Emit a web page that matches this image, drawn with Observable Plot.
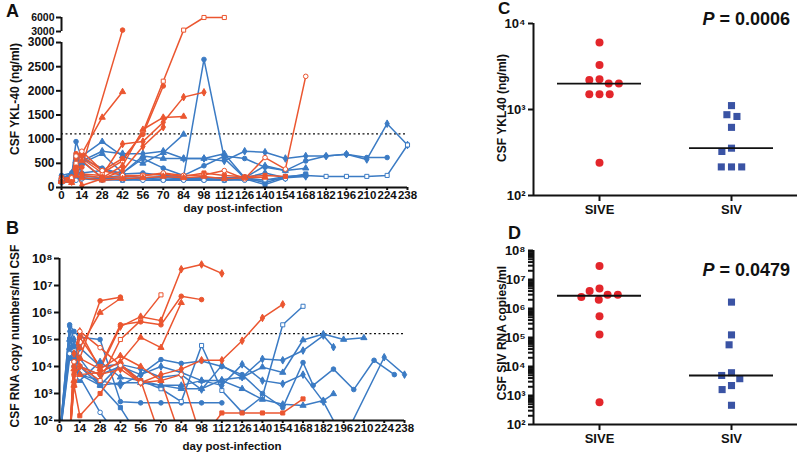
<!DOCTYPE html>
<html><head><meta charset="utf-8">
<script src="https://cdn.jsdelivr.net/npm/d3@7"></script>
<script src="https://cdn.jsdelivr.net/npm/@observablehq/plot@0.6"></script>
<style>
body{margin:0;background:#fff;font-family:"Liberation Sans",Arial,Helvetica,sans-serif;color:#111;}
#wrap{position:relative;width:800px;height:464px;overflow:hidden;background:#fff;}
.panel{position:absolute;}
.lbl{position:absolute;font-weight:bold;font-size:18px;line-height:1;}
.ytitle{position:absolute;font-weight:bold;font-size:12px;white-space:nowrap;line-height:1;transform:translate(-50%,-50%) rotate(-90deg);}
.xtitle{position:absolute;font-weight:bold;font-size:11.5px;white-space:nowrap;line-height:1;transform:translateX(-50%);}
.pval{position:absolute;font-weight:bold;font-size:18px;white-space:nowrap;line-height:1;}
</style></head>
<body>
<div id="wrap">
  <div id="pA" class="panel" style="left:0;top:0"></div>
  <div id="pB" class="panel" style="left:0;top:220px"></div>
  <div id="pC" class="panel" style="left:430px;top:0"></div>
  <div id="pD" class="panel" style="left:430px;top:225px"></div>
  <div class="lbl" style="left:6px;top:2px">A</div>
  <div class="lbl" style="left:6px;top:219px">B</div>
  <div class="lbl" style="left:498px;top:0px;font-size:17px">C</div>
  <div class="lbl" style="left:508px;top:224px">D</div>
  <div class="ytitle" style="left:15px;top:99px">CSF YKL-40 (ng/ml)</div>
  <div class="ytitle" style="left:15px;top:336px">CSF RNA copy numbers/ml CSF</div>
  <div class="ytitle" style="left:502px;top:108px">CSF YKL40 (ng/ml)</div>
  <div class="ytitle" style="left:502px;top:333px">CSF SIV RNA copies/ml</div>
  <div class="xtitle" style="left:233px;top:203px">day post-infection</div>
  <div class="xtitle" style="left:232px;top:441px">day post-infection</div>
  <div class="pval" style="right:10px;top:10px"><i>P</i> = 0.0006</div>
  <div class="pval" style="right:10px;top:261px"><i>P</i> = 0.0479</div>
</div>
<script>
// ---------- data ----------
const dayTicks = [0,14,28,42,56,70,84,98,112,126,140,154,168,182,196,210,224,238];
const yklTicksLower = [0,500,1000,1500,2000,2500,3000];
const yklTicksUpper = [3001,6000];
const yklTickLabelsLower = ["0","500","1000","1500","2000","2500","3000"];
const yklTickLabelsUpper = ["3000","6000"];
const yklThreshold = 1110;
const rnaThreshold = 1.66e5;
const rnaTicks = [1e2,1e3,1e4,1e5,1e6,1e7,1e8];

// panel A: CSF YKL-40 time courses [day, ng/ml]
const yklCourseSive = [
 [[0,180],[7,220],[10,600],[14,420],[42,3300]],
 [[0,150],[7,180],[10,450],[14,700],[28,1450],[42,1980]],
 [[0,200],[7,130],[10,350],[14,280],[28,250],[42,900],[56,950],[70,1350],[84,1870],[98,1970]],
 [[0,160],[7,200],[10,500],[14,600],[28,300],[42,550],[56,1150],[70,2200],[84,3300],[98,6000],[112,6000]],
 [[0,180],[7,150],[10,700],[14,650],[28,350],[42,600],[56,1100],[70,2100]],
 [[0,120],[7,160],[10,400],[14,550],[28,200],[42,450],[56,1200],[70,1450],[84,1470]],
 [[0,140],[7,120],[10,300],[14,40],[28,180],[42,350],[56,850],[70,1250]],
 [[0,200],[7,160],[10,350],[14,250],[28,200],[42,220],[56,250],[70,280],[84,230],[98,300],[112,250],[126,220],[140,250],[154,230]],
 [[0,170],[7,200],[10,650],[14,750],[28,350],[42,250],[56,250],[70,300],[84,250],[98,260],[112,350],[126,180],[140,620],[154,380],[168,2300]],
 [[0,130],[7,100],[10,250],[14,200],[28,150],[42,180],[56,200],[70,230],[84,200],[98,230],[112,180],[126,200],[140,210]]
];
const yklCourseSiv = [
 [[0,200],[7,250],[10,950],[14,600],[28,400],[42,280],[56,300],[70,250],[84,230],[98,2650],[112,600],[126,200],[140,100],[154,220],[168,250]],
 [[0,180],[7,300],[10,550],[14,650],[28,950],[42,650],[56,500],[70,720],[84,1100]],
 [[0,150],[7,200],[10,500],[14,550],[28,750],[42,700],[56,700],[70,750],[84,600],[98,600],[112,550],[126,750],[140,730],[154,600],[168,650],[182,650],[196,690],[210,580],[224,1320],[238,880]],
 [[0,200],[7,150],[10,300],[14,250],[28,200],[42,250],[56,200],[70,220],[84,200],[98,200],[112,200],[126,200],[140,150],[154,230],[168,250],[182,230],[196,230],[210,230],[224,250],[238,880]],
 [[0,250],[7,300],[10,650],[14,300],[28,350],[42,300],[56,600],[70,400],[84,250],[98,450],[112,650],[126,600],[140,420],[154,350],[168,550],[182,650],[196,690],[210,620],[224,620]],
 [[0,150],[7,180],[10,200],[14,500],[28,700],[42,300],[56,650],[70,600],[84,600],[98,600],[112,700],[126,200],[140,450],[154,350],[168,400]],
 [[0,180],[7,200],[10,250],[14,200],[28,180],[42,200],[56,180],[70,200],[84,180],[98,180],[112,170],[126,200],[140,300],[154,200],[168,230]],
 [[0,200],[7,150],[10,600],[14,550],[28,200],[42,150],[56,180],[70,160],[84,170],[98,160],[112,150],[126,180],[140,60],[154,200],[168,280]],
 [[0,100],[7,120],[10,150],[14,180],[28,150],[42,160],[56,150],[70,150],[84,150],[98,150],[112,160],[126,150],[140,160],[154,180]]
];

// panel B: CSF SIV RNA time courses [day, copies/ml] (values below 100 = below the axis)
const rnaCourseSive = [
 [[7,20],[10,1.5e4],[14,2e4],[28,2.7e6],[42,3.7e6]],
 [[7,20],[10,8e3],[14,5e4],[28,1e6],[42,3.3e6]],
 [[7,20],[10,3e4],[14,2e5],[28,8e3],[42,3e5],[56,7e5],[70,5e5],[84,4e7],[98,6e7],[112,2.8e7]],
 [[7,20],[10,5e3],[14,1e4],[28,3e3],[42,1e5],[56,5e5],[70,4.5e6]],
 [[7,20],[10,1e4],[14,1.2e5],[28,1e4],[42,3.5e5],[56,4.5e5],[70,3.5e5],[84,4e6],[98,3e6]],
 [[7,20],[10,2e3],[14,5e3],[28,6e3],[42,1.5e4],[56,1.2e5],[70,5e4],[84,2.3e6]],
 [[7,20],[10,5e3],[14,1e4],[28,5e3],[42,8e3],[56,2.5e3],[70,5e3],[84,8e3],[98,1.7e4],[112,1.7e4],[126,9e4],[140,6.3e5],[154,2e6]],
 [[7,20],[10,2e3],[14,150],[28,1e3],[42,1.2e4],[56,3e3],[70,20],[98,20],[112,190],[126,190],[140,190],[154,190],[168,630]],
 [[7,20],[10,1.5e4],[14,2e5],[28,5e4],[42,1.1e4],[56,2.5e3],[70,3e3],[84,5e3],[98,20]],
 [[7,20],[10,3e3],[14,2e4],[28,8e3],[42,2.5e4],[56,1e4],[70,3e3],[84,20]]
];
const rnaCourseSiv = [
 [[0,20],[7,3.5e5],[10,2e5],[14,1.2e5],[28,1e5],[42,5e2],[56,4.5e2],[70,4.5e2],[84,4.5e2],[98,4.5e2],[112,4.5e2]],
 [[0,20],[7,1e5],[10,5e4],[14,2e4],[28,2e3],[42,2.5e3],[56,2.5e3],[70,2e3],[84,1.5e3],[98,1.5e3],[112,3.2e3],[126,4e3],[140,9.5e3],[154,6e3],[168,9.6e4],[182,1.6e5],[196,1e5],[210,1.15e5]],
 [[0,20],[7,3e5],[10,1e5],[14,5e4],[28,1e4],[42,1.2e4],[56,8e3],[70,4e3],[84,5e3],[98,1.4e3],[112,1.1e4],[126,4e3],[140,1.9e4],[154,1.7e4],[168,3.9e4],[182,1.4e5],[189,5.2e4]],
 [[0,20],[7,1e5],[10,4e4],[14,1e4],[28,2e3],[42,1.2e4],[56,3e3],[70,1.5e3],[84,5e2],[98,6e4],[112,1.3e3],[126,2e2],[140,7.7e2],[154,3.5e5],[168,1.7e6]],
 [[0,20],[7,2e4],[10,3e4],[14,1e4],[28,5e3],[42,1e4],[56,5e3],[70,1.8e4],[84,1.3e4],[98,1.6e4],[112,1e4],[126,5e3],[140,1e3],[154,3e2],[168,1.4e4],[175,2e3],[189,8e3],[203,1.4e3],[217,1.7e4],[231,5e3]],
 [[0,20],[7,5e4],[10,2e4],[14,3e3],[28,1.5e4],[42,4e3],[56,3e3],[70,2e3],[84,2e3],[98,3e3],[112,3e3],[126,1.5e3],[140,6e2],[154,4e2],[168,3.6e2],[182,5.5e2],[189,9.7e2]],
 [[0,20],[7,2e5],[10,6e4],[14,5e3],[28,3e3],[42,2e3],[56,5e3],[70,1e4],[84,6e3],[98,3e3],[112,2e3],[126,1.2e4],[140,3e3],[154,2.3e3],[168,5e3],[182,5e2],[196,20],[224,2.2e4],[238,5e3]],
 [[0,20],[7,1e5],[10,3e4],[14,5e3],[28,2e3],[42,3e2],[56,20]],
 [[0,20],[7,3e4],[10,1e4],[14,4e3],[28,2e2],[42,20]]
];

// panels C and D: per-animal values
const groups = ["SIVE","SIV"];
const yklSive = [6000,3300,2250,2200,2000,2000,1500,1500,1500,240];
const yklSiv  = [1110,870,830,620,355,325,215,215,215];
const rnaSive = [2.9e7,4.9e6,4e6,3e6,3e6,2.5e6,2e6,5.4e5,1.26e5,590];
const rnaSiv  = [1.66e6,1.23e5,5.6e4,6.1e3,4.9e3,3.8e3,2.2e3,1.6e3,460];

// ---------- style ----------
const RED = "#eb5630", BLUE = "#3b7bc4";
const RED2 = "#e3262b", BLUE2 = "#3a53a4";
const SYMS = ["circle","triangle","diamond","square"];
const FONT = "'Liberation Sans', Arial, Helvetica, sans-serif";
const SUP = ["⁰","¹","²","³","⁴","⁵","⁶","⁷","⁸","⁹"];
const pow10 = d => "10" + SUP[Math.round(Math.log10(d))];
const baseStyle = {fontFamily: FONT, fontSize: "12px", fontWeight: "bold", color: "#111", background: "transparent", overflow: "visible"};

// broken y axis for panel A: linear up to 3000, gap, compressed segment up to 6000
const BREAK_AT = 3000, BREAK_GAP = 228, UPPER_K = 0.0966;
const brokenY = v => (v <= BREAK_AT ? v : BREAK_AT + BREAK_GAP + (v - BREAK_AT) * UPPER_K);
const identity = v => v;

function toRows(series, group, f) {
  const out = [];
  series.forEach((s, k) => s.forEach(([day, value]) => out.push({id: group + k, group, k, day, value, y: f(value)})));
  return out;
}

function courseMarks(sive, siv, yMin, clip, f) {
  const rs = toRows(sive, "SIVE", f), bs = toRows(siv, "SIV", f);
  const dots = (data, col) => Plot.dot(data.filter(d => d.value >= yMin), {
    x: "day", y: "y", symbol: d => d.k % 4, r: 2.3, stroke: col, strokeWidth: 1,
    fill: d => (d.k % 5 === 3 ? "white" : col)
  });
  return [
    Plot.line(bs, {x: "day", y: "y", z: "id", stroke: BLUE, strokeWidth: 1.5, clip}),
    Plot.line(rs, {x: "day", y: "y", z: "id", stroke: RED, strokeWidth: 1.5, clip}),
    dots(bs, BLUE),
    dots(rs, RED)
  ];
}

const xAxisCourse = Plot.axisX({ticks: dayTicks, tickFormat: d => String(d), tickSize: 3, tickPadding: 0, strokeWidth: 2, label: null, fontSize: 11.5, fontWeight: "bold"});

// ---------- panel A ----------
const lowT = yklTicksLower.map(brokenY), upT = yklTicksUpper.map(brokenY);
const plotA = Plot.plot({
  width: 420, height: 215, marginLeft: 61, marginRight: 13, marginTop: 17, marginBottom: 28,
  style: baseStyle,
  x: {domain: [0, 238]},
  y: {domain: [0, brokenY(6000)]},
  symbol: {domain: [0,1,2,3], range: SYMS},
  marks: [
    Plot.ruleY([brokenY(yklThreshold)], {stroke: "#111", strokeWidth: 1.3, strokeDasharray: "2,2.5"}),
    ...courseMarks(yklCourseSive, yklCourseSiv, 0, false, brokenY),
    Plot.ruleY([0], {strokeWidth: 2}),
    Plot.ruleX([0], {y1: 0, y2: brokenY(3000), strokeWidth: 2}),
    Plot.ruleX([0], {y1: brokenY(3001), y2: brokenY(6000), strokeWidth: 2}),
    Plot.axisY({ticks: lowT, tickFormat: d => yklTickLabelsLower[lowT.indexOf(d)], tickSize: 5, tickPadding: 2, strokeWidth: 2, label: null, fontSize: 12, fontWeight: "bold"}),
    Plot.axisY({ticks: upT, tickFormat: d => yklTickLabelsUpper[upT.indexOf(d)], tickSize: 5, tickPadding: 2, strokeWidth: 2, label: null, fontSize: 10.5, fontWeight: "bold"}),
    xAxisCourse
  ]
});
document.getElementById("pA").append(plotA);

// ---------- panel B ----------
const plotB = Plot.plot({
  width: 420, height: 244, marginLeft: 59, marginRight: 16, marginTop: 38, marginBottom: 44,
  style: baseStyle,
  x: {domain: [0, 238]},
  y: {type: "log", domain: [1e2, 1e8]},
  symbol: {domain: [0,1,2,3], range: SYMS},
  marks: [
    Plot.ruleY([rnaThreshold], {stroke: "#111", strokeWidth: 1.3, strokeDasharray: "2,2.5"}),
    ...courseMarks(rnaCourseSive, rnaCourseSiv, 100, true, identity),
    Plot.ruleY([1e2], {strokeWidth: 2}),
    Plot.ruleX([0], {y1: 1e2, y2: 1e8, strokeWidth: 2}),
    Plot.axisY({ticks: rnaTicks, tickFormat: pow10, tickSize: 5, tickPadding: 2, strokeWidth: 2, label: null, fontSize: 13, fontWeight: "bold"}),
    xAxisCourse
  ]
});
document.getElementById("pB").append(plotB);

// ---------- panels C and D ----------
function scatterPanel(sive, siv, ticks, minorTicks, dims) {
  const rowsS = sive.map(value => ({group: "SIVE", value}))
    .concat(siv.map(value => ({group: "SIV", value})));
  const med = [{group: "SIVE", median: d3.median(sive)}, {group: "SIV", median: d3.median(siv)}];
  const allTicks = ticks.concat(minorTicks || []).sort((a, b) => a - b);
  return Plot.plot({
    ...dims,
    style: baseStyle,
    fx: {domain: groups, padding: 0},
    x: {domain: [0, 1], axis: null},
    y: {type: "log", domain: [ticks[0], ticks[ticks.length - 1]]},
    color: {domain: groups, range: [RED2, BLUE2]},
    symbol: {domain: groups, range: ["circle", "square"]},
    marks: [
      Plot.ruleY([ticks[0]], {strokeWidth: 2}),
      Plot.ruleX([{g: "SIVE"}], {fx: "g", x: () => 0, y1: ticks[0], y2: ticks[ticks.length - 1], strokeWidth: 2}),
      Plot.dot(rowsS, Plot.dodgeX({anchor: "middle", padding: 2.2}, {fx: "group", y: "value", r: 4, symbol: "group", fill: "group"})),
      Plot.ruleY(med, {fx: "group", y: "median", insetLeft: 24, insetRight: 24, strokeWidth: 1.8, stroke: "#111"}),
      Plot.axisY({ticks: allTicks, tickFormat: d => (ticks.includes(d) ? pow10(d) : ""), tickSize: 5, tickPadding: 3, strokeWidth: 2, label: null, fontSize: 13, fontWeight: "bold"}),
      Plot.axisFx({anchor: "bottom", label: null, tickSize: 6, tickPadding: 3, strokeWidth: 2, fontSize: 13, fontWeight: "bold"})
    ]
  });
}

const plotC = scatterPanel(yklSive, yklSiv, [1e2, 1e3, 1e4], null,
  {width: 370, height: 225, marginLeft: 103, marginRight: 3, marginTop: 23, marginBottom: 30});
document.getElementById("pC").append(plotC);

const minorD = d3.range(2, 8).flatMap(e => d3.range(2, 10).map(m => m * Math.pow(10, e)));
const plotD = scatterPanel(rnaSive, rnaSiv, rnaTicks, minorD,
  {width: 370, height: 239, marginLeft: 103, marginRight: 3, marginTop: 25, marginBottom: 40});
document.getElementById("pD").append(plotD);
</script>
</body></html>
